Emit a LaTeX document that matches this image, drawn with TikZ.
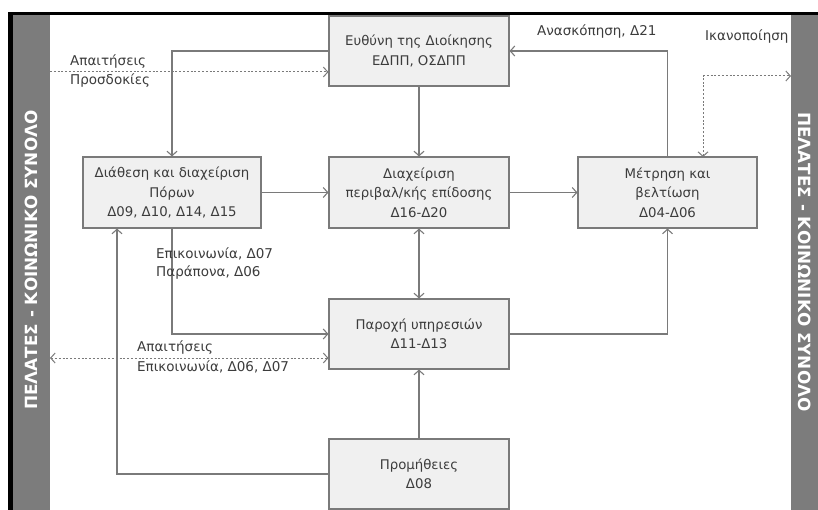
\documentclass[tikz,border=0pt]{standalone}
\usepackage{fontspec}
\setmainfont{DejaVu Sans}
\usetikzlibrary{arrows.meta,calc}
\definecolor{boxfill}{HTML}{F0F0F0}
\definecolor{boxline}{HTML}{7A7A7A}
\definecolor{txt}{HTML}{3C3C3C}
\definecolor{barcol}{HTML}{7C7C7C}
\tikzset{
  procbox/.style={draw=boxline, fill=boxfill, line width=1.1pt, text=txt,
    align=center, font=\fontsize{13.3}{19.5}\selectfont, inner sep=0pt},
  lbl/.style={text=txt, font=\fontsize{13.5}{19}\selectfont, inner sep=0pt, align=left},
  conn/.style={draw=boxline, line width=1.1pt, -{Straight Barb[length=4.5pt,width=10pt]}},
  dconn/.style={conn, line width=1pt, dash pattern=on 2pt off 1.8pt},
  bartext/.style={text=white, font=\bfseries\fontsize{16.8}{16.8}\selectfont}
}
\begin{document}
\begin{tikzpicture}[x=1pt,y=-1pt]
\useasboundingbox (0,0) rectangle (818,510);
\fill[white] (0,0) rectangle (818,510);
% frame and bars
\fill[black] (8,12) rectangle (818,15.5);
\fill[black] (8,12) rectangle (13,510);
\fill[barcol] (13,15.5) rectangle (50,510);
\fill[barcol] (791,15.5) rectangle (818,510);
\node[bartext, rotate=90] (barL) at (31.5,260) {ΠΕΛΑΤΕΣ - ΚΟΙΝΩΝΙΚΟ ΣΥΝΟΛΟ};
\node[bartext, rotate=-90] (barR) at (805,262) {ΠΕΛΑΤΕΣ - ΚΟΙΝΩΝΙΚΟ ΣΥΝΟΛΟ};
% boxes
\node[procbox, minimum width=180pt, minimum height=70pt] (top) at (419,51) {Ευθύνη της Διοίκησης\\ΕΔΠΠ, ΟΣΔΠΠ};
\node[procbox, minimum width=178pt, minimum height=71pt] (left) at (172,192.5) {Διάθεση και διαχείριση\\Πόρων\\Δ09, Δ10, Δ14, Δ15};
\node[procbox, minimum width=180pt, minimum height=71pt] (mid) at (419,192.5) {Διαχείριση\\περιβαλ/κής επίδοσης\\Δ16-Δ20};
\node[procbox, minimum width=179pt, minimum height=71pt] (right) at (667.5,192.5) {Μέτρηση και\\βελτίωση\\Δ04-Δ06};
\node[procbox, minimum width=180pt, minimum height=70pt] (serv) at (419,334) {Παροχή υπηρεσιών\\Δ11-Δ13};
\node[procbox, minimum width=180pt, minimum height=70pt] (supp) at (419,474) {Προμήθειες\\Δ08};
% free ends on the bars
\coordinate (reqL) at (50,72);
\coordinate (comL) at (50,358);
\coordinate (satR) at (791,76);
\coordinate (satB) at (703,157);
% connectors
\draw[dconn] (reqL) -- (reqL -| top.west);
\draw[conn] (top.west) -| (left.north);
\draw[conn] (top) -- (mid);
\draw[conn] (left) -- (mid);
\draw[conn] (mid) -- (right);
\draw[conn, {Straight Barb[length=4.5pt,width=10pt]}-{Straight Barb[length=4.5pt,width=10pt]}] (mid) -- (serv);
\draw[conn] (right.north) |- (top.east);
\draw[dconn, {Straight Barb[length=4.5pt,width=10pt]}-{Straight Barb[length=4.5pt,width=10pt]}] (satB) |- (satR);
\draw[conn] (serv.east) -| (right.south);
\draw[conn] (left.south) |- (serv.west);
\draw[dconn, {Straight Barb[length=4.5pt,width=10pt]}-{Straight Barb[length=4.5pt,width=10pt]}] (comL) -- (comL -| serv.west);
\draw[conn] (supp.west) -| ([xshift=-55pt]left.south);
\draw[conn] (supp) -- (serv);
% labels
\node[lbl, anchor=west] (l1) at (70,62) {Απαιτήσεις};
\node[lbl, anchor=west] (l2) at (70,81) {Προσδοκίες};
\node[lbl, anchor=west] (l3) at (537,32) {Ανασκόπηση, Δ21};
\node[lbl, anchor=west] (l4) at (705,37) {Ικανοποίηση};
\node[lbl, anchor=west] (l5) at (156,254) {Επικοινωνία, Δ07};
\node[lbl, anchor=west] (l6) at (156,273) {Παράπονα, Δ06};
\node[lbl, anchor=west] (l7) at (137,348) {Απαιτήσεις};
\node[lbl, anchor=west] (l8) at (137,367) {Επικοινωνία, Δ06, Δ07};
\end{tikzpicture}
\end{document}
